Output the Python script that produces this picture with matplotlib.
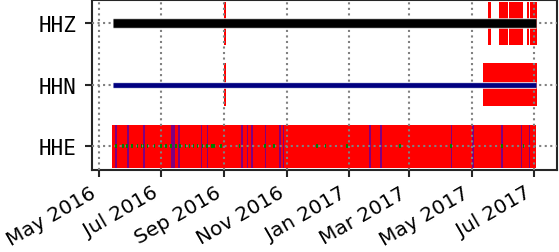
import matplotlib
matplotlib.use('Agg')
import matplotlib.pyplot as plt
import matplotlib.dates as mdates
import matplotlib.patheffects as pe
import pandas as pd

# channels, bottom to top
channels = ['HHE', 'HHN', 'HHZ']

# continuous data span of HHZ / HHN
data_start = '2016-05-15 02:00'
data_end = '2017-07-02 14:00'
line_colors = {'HHZ': 'black', 'HHN': '#000080'}
line_widths = {'HHZ': 6.2, 'HHN': 3.4}

# gaps (start, end)
hhz_gaps = [('2016-08-31 22:00', '2016-09-02 06:00'),
            ('2017-05-17 10:00', '2017-05-19 22:00'),
            ('2017-05-28 05:00', '2017-06-05 12:00'),
            ('2017-06-06 05:00', '2017-06-20 12:00'),
            ('2017-06-24 02:00', '2017-06-26 02:00'),
            ('2017-06-27 02:00', '2017-07-03 12:00')]
hhn_gaps = [('2016-08-31 22:00', '2016-09-02 06:00'),
            ('2017-05-11 19:00', '2017-07-03 14:00'),
            ('2017-06-09 12:00', '2017-06-10 06:00')]
hhe_gaps = [('2016-05-14 07:00', '2017-07-03 08:00')]

# HHE overlaps (start, length in days)
hhe_overlaps = [('2016-05-17', 1.5), ('2016-05-28 16:00', 1.5), ('2016-06-13 14:00', 1.5),
                ('2016-07-10 14:00', 3.6), ('2016-07-17 14:00', 1.5), ('2016-08-09', 1.5),
                ('2016-08-14 16:00', 1.5), ('2016-09-17', 1.8), ('2016-09-23', 1.5),
                ('2016-09-27', 1.5), ('2016-10-10 16:00', 1.5), ('2016-10-24 10:00', 1.5),
                ('2016-10-28 10:00', 1.3), ('2017-01-20 12:00', 1.5), ('2017-01-31 08:00', 1.5),
                ('2017-04-10 16:00', 1.5), ('2017-05-01 14:00', 1.5), ('2017-05-29 16:00', 1.5),
                ('2017-06-18 05:00', 1.5), ('2017-06-26', 1.5)]

# HHE short data pieces
hhe_pieces = ['2016-05-17', '2016-05-24', '2016-05-28', '2016-06-02', '2016-06-07',
              '2016-06-11', '2016-06-13', '2016-06-17', '2016-06-24', '2016-06-30',
              '2016-07-05', '2016-07-10', '2016-07-15', '2016-07-19', '2016-07-24',
              '2016-07-28', '2016-08-01', '2016-08-05', '2016-08-10', '2016-08-14',
              '2016-08-19', '2016-08-21', '2016-08-28', '2016-09-15', '2016-10-10',
              '2016-10-19', '2016-11-30', '2016-12-08', '2016-12-29', '2017-02-19',
              '2017-04-10', '2017-05-30', '2017-06-20']

x_min = '2016-04-24 10:00'
x_max = '2017-07-23 12:00'

fig = plt.figure(figsize=(5.59, 2.53), dpi=100)
ax = fig.add_axes([92 / 559, 1 - 171.3 / 253, 465 / 559, 170.3 / 253])


def to_num(s):
    return mdates.date2num(pd.Timestamp(s))


def draw_gaps(gaps, y):
    bars = [(to_num(a), to_num(b) - to_num(a)) for a, b in gaps]
    ax.broken_barh(bars, (y - 0.35, 0.7), facecolors='red', edgecolor='none', zorder=1)


draw_gaps(hhe_gaps, 0)
draw_gaps(hhn_gaps, 1)
draw_gaps(hhz_gaps, 2)

# overlaps on HHE
ov = [(to_num(s), d) for s, d in hhe_overlaps]
ax.broken_barh(ov, (-0.35, 0.7), facecolors='#800080', edgecolor='none', zorder=1.5)

# HHZ and HHN data lines
for ch in ['HHN', 'HHZ']:
    y = channels.index(ch)
    halo = '#d6d6d6' if ch == 'HHZ' else '#dde0f0'
    ax.plot([pd.Timestamp(data_start), pd.Timestamp(data_end)], [y, y],
            color=line_colors[ch], lw=line_widths[ch], solid_capstyle='butt', zorder=3,
            path_effects=[pe.Stroke(linewidth=line_widths[ch] + 1.4, foreground=halo), pe.Normal()])

# HHE short pieces
for s in hhe_pieces:
    t0 = pd.Timestamp(s)
    ax.plot([t0, t0 + pd.Timedelta(hours=36)], [0, 0], color='#008000', lw=2.8,
            solid_capstyle='butt', zorder=3)

ax.set_xlim(pd.Timestamp(x_min), pd.Timestamp(x_max))
ax.set_ylim(-0.39, 2.38)
ax.set_yticks(range(len(channels)))
ax.set_yticklabels(channels, family='DejaVu Sans Mono', fontsize=15)

ax.xaxis.set_major_locator(mdates.MonthLocator(bymonth=[1, 3, 5, 7, 9, 11]))
ax.xaxis.set_major_formatter(mdates.DateFormatter('%b %Y'))
ax.tick_params(axis='x', labelrotation=30, labelsize=14.5)
plt.setp(ax.get_xticklabels(), ha='right', rotation_mode='default')

ax.set_axisbelow(False)
ax.grid(True, linestyle=':', color='gray', linewidth=1.5)
for sp in ax.spines.values():
    sp.set_color('#262626')
    sp.set_linewidth(1.5)
ax.tick_params(length=5, width=1.5, color='#262626')
ax.tick_params(axis='y', pad=6.5)
ax.tick_params(axis='x', pad=4)

fig.savefig('out.png', dpi=100)
